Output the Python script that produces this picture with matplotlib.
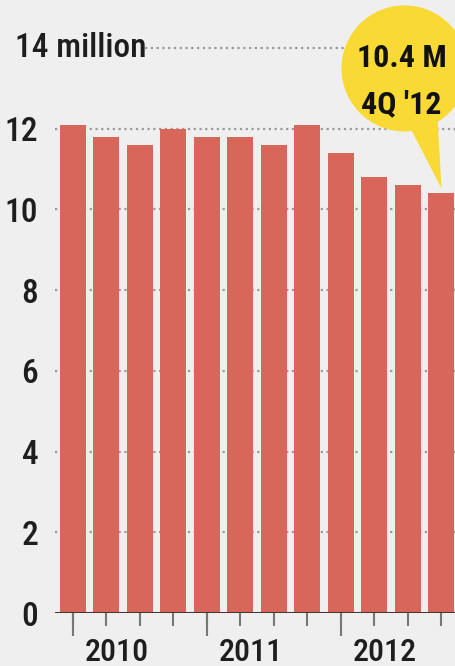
import matplotlib
matplotlib.use("Agg")
import matplotlib.pyplot as plt
from matplotlib.patches import Circle, Polygon
from matplotlib.transforms import Affine2D, ScaledTranslation

# quarterly values, millions (1Q 2010 .. 4Q 2012)
quarters = ["1Q10", "2Q10", "3Q10", "4Q10", "1Q11", "2Q11", "3Q11", "4Q11",
            "1Q12", "2Q12", "3Q12", "4Q12"]
values = [12.1, 11.8, 11.6, 12.0, 11.8, 11.8, 11.6, 12.1, 11.4, 10.8, 10.6, 10.4]
years = ["2010", "2011", "2012"]
yticks = [0, 2, 4, 6, 8, 10, 12]
callout = ["10.4 M", "4Q '12"]

plt.rcParams["font.family"] = ["Roboto Condensed", "DejaVu Sans"]

BG = "#efefef"
BAR = "#d9665a"
TXT = "#1e1e1e"
W, H = 456, 666

fig = plt.figure(figsize=(W / 100, H / 100), dpi=100, facecolor=BG)
# axes spans from the baseline (y px 613) to the top of the figure
ax = fig.add_axes([55 / W, 53 / H, 1 - 55 / W, 1 - 53 / H], facecolor=BG)

pitch = 33.5
x = list(range(len(values)))
ax.set_xlim(-18 / pitch, (W - 73) / pitch)
ax.set_ylim(0, 613 / 40.36)

ax.bar(x, values, width=26 / pitch, color=BAR, zorder=2)

# dotted gridlines
for v in yticks[1:]:
    ax.axhline(v, color="#9a9a9a", lw=1.6, ls=(0, (1, 1.6)), zorder=1)
ax.hlines(14, (145 - 73) / pitch, (W - 73) / pitch, color="#9a9a9a",
          lw=1.6, ls=(0, (1, 1.6)), zorder=1)

# baseline
ax.axhline(0, color="#4a3533", lw=2.2, zorder=3)

for s in ax.spines.values():
    s.set_visible(False)

ax.set_yticks(yticks)
ax.set_yticklabels([str(v) for v in yticks], fontsize=24, color=TXT,
                   fontweight="medium")
ax.tick_params(axis="y", length=0, pad=12)
ax.text(-58 / pitch, 14, "14 million", fontsize=24, fontweight="medium",
        color=TXT, ha="left", va="center")

# quarter ticks under each bar, long ones at the year starts
ax.set_xticks(x)
ax.set_xticklabels([])
ax.tick_params(axis="x", length=9, width=1.5, color="#777777", direction="out")
for i, yr in enumerate(years):
    xi = i * 4
    ax.plot([xi, xi], [0, -22 / 40.36], color="#777777", lw=1.5,
            clip_on=False, zorder=1)
    ax.text(xi + 12 / pitch, -0.62, yr, fontsize=23, fontweight="medium",
            color=TXT, ha="left", va="top")

# speech bubble pointing at the last bar (offsets in pixels from its top)
tip = ScaledTranslation(x[-1], values[-1] + 0.12, ax.transData)
ax.add_patch(Circle((-37, 120), 63, transform=Affine2D() + tip,
                    facecolor="#f9d933", edgecolor="none", clip_on=False,
                    zorder=4))
ax.add_patch(Polygon([(-31, 60), (-4, 70), (0, 0)], closed=True,
                     transform=Affine2D() + tip, facecolor="#f9d933",
                     edgecolor="none", clip_on=False, zorder=4))
ax.text(-40, 130, callout[0], transform=Affine2D() + tip, fontsize=23,
        fontweight="bold", color="#111111", ha="center", va="center",
        zorder=5)
ax.text(-40, 84, callout[1], transform=Affine2D() + tip, fontsize=23,
        fontweight="bold", color="#111111", ha="center", va="center",
        zorder=5)

fig.savefig("out.png", dpi=100, facecolor=BG)
